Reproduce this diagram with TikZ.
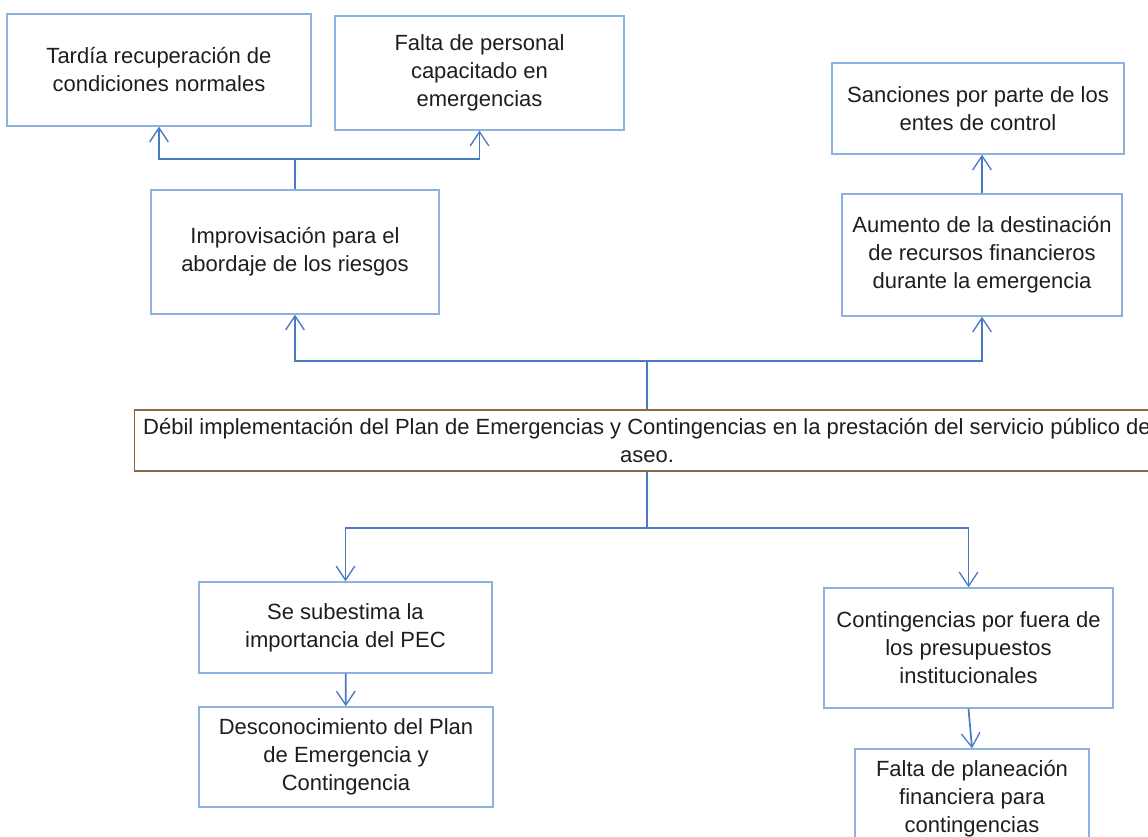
\documentclass[tikz,border=0pt]{standalone}
\usepackage{fontspec}
\setmainfont{Liberation Sans}
\usetikzlibrary{arrows.meta}

\definecolor{boxblue}{RGB}{142,178,224}
\definecolor{linkblue}{RGB}{74,122,196}
\definecolor{mainbrown}{RGB}{140,104,66}
\definecolor{txtgray}{RGB}{30,30,30}

\tikzset{every picture/.style={line width=0.75pt},
  causebox/.style={draw=boxblue, line width=1.1pt, align=center, inner sep=0.75pt, text=txtgray, font=\fontsize{16.5}{21}\selectfont},
  mainbox/.style={causebox, draw=mainbrown},
  linkline/.style={draw=linkblue, line width=1.3pt},
  linkarrow/.style={linkline, -{Straight Barb[length=10.5pt,width=14pt,line width=1pt]}}}

\begin{document}
\begin{tikzpicture}[x=0.75pt,y=0.75pt,yscale=-1,xscale=1]
    \useasboundingbox (0,0) rectangle (1148,837);

    % Text Node
    \node [causebox, minimum width=228pt, minimum height=84pt] (tardia) at (159,70) {Tardía recuperación de\\condiciones normales};
    % Text Node
    \node [causebox, minimum width=216.75pt, minimum height=85.5pt] (falta) at (479.5,73) {Falta de personal\\capacitado en\\emergencias};
    % Text Node
    \node [causebox, minimum width=216pt, minimum height=93pt] (improv) at (295,252) {Improvisación para el\\abordaje de los riesgos};
    % Text Node
    \node [causebox, minimum width=219pt, minimum height=68.25pt] (sanc) at (978,108.5) {Sanciones por parte de los\\entes de control};
    % Text Node
    \node [causebox, minimum width=210pt, minimum height=91.5pt] (aumento) at (982,255) {Aumento de la destinación\\de recursos financieros\\durante la emergencia};
    % Text Node
    \node [mainbox, minimum width=768.75pt, minimum height=45.75pt] (problema) at (647,440.5) {Débil implementación del Plan de Emergencias y Contingencias en la prestación del servicio público de\\aseo.};
    % Text Node
    \node [causebox, minimum width=219.75pt, minimum height=68.25pt] (subest) at (345.5,627.5) {Se subestima la\\importancia del PEC};
    % Text Node
    \node [causebox, minimum width=220.5pt, minimum height=75pt] (descon) at (346,757) {Desconocimiento del Plan\\de Emergencia y\\Contingencia};
    % Text Node
    \node [causebox, minimum width=216.75pt, minimum height=90pt] (conting) at (968.5,648) {Contingencias por fuera de\\los presupuestos\\institucionales};
    % Text Node
    \node [causebox, minimum width=175.5pt, minimum height=75pt] (planea) at (972,799) {Falta de planeación\\financiera para\\contingencias};

    \coordinate (topfork) at (295,159);
    \coordinate (upfork) at (647,361);
    \coordinate (downfork) at (647,528);

    %Straight Lines
    \draw [linkline] (improv) -- (topfork);
    \draw [linkarrow] (topfork) -| (tardia);
    \draw [linkarrow] (topfork) -| (falta);
    %Straight Lines
    \draw [linkline] (problema) -- (upfork);
    \draw [linkarrow] (upfork) -| (improv);
    \draw [linkarrow] (upfork) -| (aumento);
    %Straight Lines
    \draw [linkarrow] (aumento.north) -- (aumento.north |- sanc.south);
    %Straight Lines
    \draw [linkline] (problema) -- (downfork);
    \draw [linkarrow] (downfork) -| (subest);
    \draw [linkarrow] (downfork) -| (conting);
    %Straight Lines
    \draw [linkarrow] (subest) -- (descon);
    \draw [linkarrow] (conting.south) -- (planea.north);
\end{tikzpicture}
\end{document}
